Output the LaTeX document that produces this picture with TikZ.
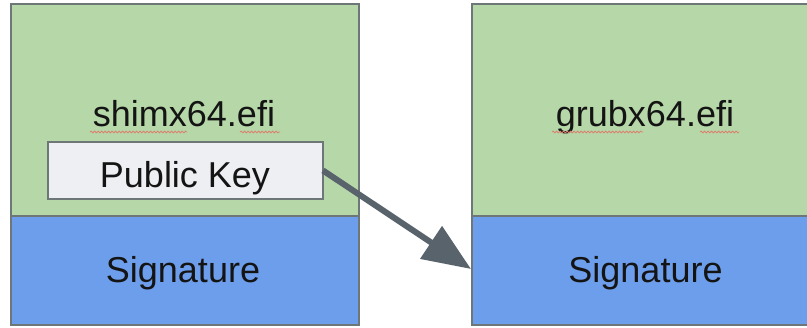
\documentclass[tikz,border=0pt]{standalone}
\usepackage{fontspec}
\setmainfont{Liberation Sans}
\usetikzlibrary{arrows.meta,decorations.pathmorphing}
\definecolor{fgreen}{HTML}{B6D7A8}
\definecolor{fblue}{HTML}{6D9EEB}
\definecolor{fkey}{HTML}{EEEFF3}
\definecolor{edge}{HTML}{6E7778}
\definecolor{arrowc}{HTML}{59636B}
\definecolor{txt}{HTML}{141414}
\definecolor{squig}{HTML}{D9826E}
\tikzset{
  part/.style={draw=edge, line width=1.3pt, anchor=north west, inner sep=0pt, outer sep=0pt},
  label/.style={anchor=base, font=\fontsize{36}{40}\selectfont, text=txt, inner sep=0pt},
  squiggle/.style={draw=squig, line width=0.8pt, decorate, decoration={snake, amplitude=0.9pt, segment length=3.5pt}},
  bigarrow/.style={draw=arrowc, line width=6pt, -{Triangle[length=48pt,width=38pt]}}
}
\begin{document}
\begin{tikzpicture}[x=1pt,y=-1pt]
\useasboundingbox (0,0) rectangle (807,328);
% left file
\node[part, fill=fgreen, minimum width=348pt, minimum height=212pt] (ltop) at (11,4) {};
\node[part, fill=fblue, minimum width=348pt, minimum height=109pt] (lbot) at (11,216) {};
% right file
\node[part, fill=fgreen, minimum width=340pt, minimum height=212pt] (rtop) at (472,4) {};
\node[part, fill=fblue, minimum width=340pt, minimum height=109pt] (rbot) at (472,216) {};
% public key
\node[part, fill=fkey, minimum width=275pt, minimum height=57pt] (pk) at (48,142) {};
% labels
\node[label] (lname) at (184,127) {shimx64.efi};
\node[label] (pktext) at (185,188) {Public Key};
\node[label] (lsig) at (183,283) {Signature};
\node[label] (rname) at (645,127) {grubx64.efi};
\node[label] (rsig) at (645.5,283) {Signature};
% spell-check squiggles
\path[squiggle] (90,132) -- (187,132);
\path[squiggle] (240,132) -- (280,132);
\path[squiggle] (552,132) -- (643,132);
\path[squiggle] (700,132) -- (739,132);
% arrow
\coordinate (tip) at (471,269);
\draw[bigarrow] (pk.east) -- (tip);
\end{tikzpicture}
\end{document}
